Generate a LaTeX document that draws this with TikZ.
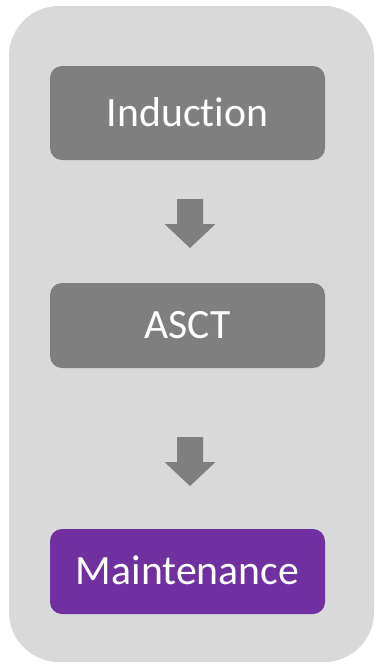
\documentclass[tikz,border=0pt]{standalone}
\usepackage{fontspec}
\setmainfont{Carlito}[Ligatures={NoCommon}]
\definecolor{panelgray}{HTML}{D9D9D9}
\definecolor{boxgray}{HTML}{7F7F7F}
\definecolor{boxpurple}{HTML}{7030A0}
\tikzset{
  stepbox/.style={rounded corners=12pt, minimum width=275pt, inner sep=0pt,
    text=white, font=\fontsize{41.7}{50}\selectfont, text height=26.8pt, text depth=0pt},
  pics/blockarrow/.style={code={
    \fill[boxgray] (0,0) ++(-13,0) -- ++(26,0) -- ++(0,25) -- ++(12.5,0)
      -- ++(-25.5,24) -- ++(-25.5,-24) -- ++(12.5,0) -- cycle;}}
}
\begin{document}
\begin{tikzpicture}[x=1pt,y=-1pt]
\useasboundingbox (0,0) rectangle (376,664);
\fill[panelgray, rounded corners=50pt] (9,6) rectangle (374,662);
\node[stepbox, fill=boxgray, minimum height=94pt] (ind) at (187.5,113) {Induction};
\node[stepbox, fill=boxgray, minimum height=85pt] (asct) at (187.5,325.5) {ASCT};
\node[stepbox, fill=boxpurple, minimum height=85pt] (main) at (187.5,571.5) {Maintenance};
\coordinate (a1) at (190,199);
\coordinate (a2) at (190,437);
\pic at (a1) {blockarrow};
\pic at (a2) {blockarrow};
\end{tikzpicture}
\end{document}
